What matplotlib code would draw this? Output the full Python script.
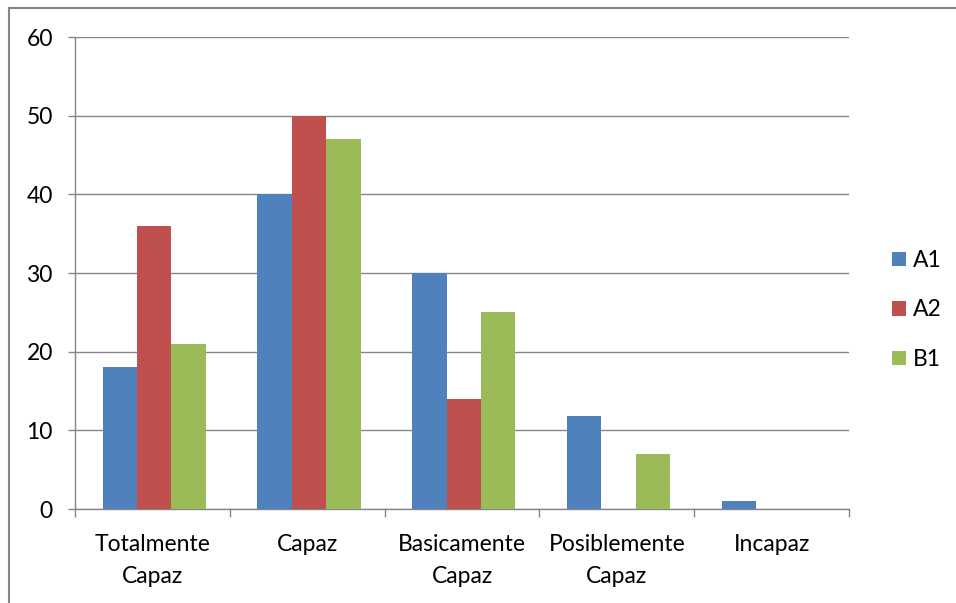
import numpy as np
import matplotlib.pyplot as plt
from matplotlib.lines import Line2D

categories = ['Totalmente\nCapaz', 'Capaz', 'Basicamente\nCapaz', 'Posiblemente\nCapaz', 'Incapaz']
a1 = [18, 40, 30, 11.8, 1]
a2 = [36, 50, 14, 0, 0]
b1 = [21, 47, 25, 7, 0]
series = ['A1', 'A2', 'B1']
colors = ['#4F81BD', '#C0504D', '#9BBB59']

plt.rcParams['font.family'] = ['Lato', 'DejaVu Sans']
grid_c = '#868686'
fs = 16.5

fig = plt.figure(figsize=(9.56, 6.03), dpi=100)
ax = fig.add_axes([75/956, 94/603, 774/956, 472/603])

w = 1/4.5
x = np.arange(len(categories)) + 0.5
for i, (vals, c, lab) in enumerate(zip([a1, a2, b1], colors, series)):
    ax.bar(x + (i-1)*w + 0.012, vals, width=w, color=c, label=lab, zorder=3, linewidth=0)

ax.set_xlim(0, 5)
ax.set_ylim(0, 60)
ax.set_yticks(range(0, 61, 10))
ax.yaxis.grid(True, color=grid_c, linewidth=1.0, zorder=0)
ax.set_xticks(range(0, 6))
ax.set_xticklabels([])
ax.set_xticks(x, minor=True)
ax.set_xticklabels(categories, minor=True, fontsize=fs, linespacing=1.65)
ax.tick_params(axis='x', which='minor', length=0, pad=18)
ax.tick_params(axis='x', which='major', length=6, color=grid_c, width=1.0)
ax.tick_params(axis='y', length=5, color=grid_c, width=1.0, pad=11, labelsize=fs)
for s in ['top', 'right']:
    ax.spines[s].set_visible(False)
for s in ['left', 'bottom']:
    ax.spines[s].set_color(grid_c)
    ax.spines[s].set_linewidth(1.0)

ax.legend(loc='center left', bbox_to_anchor=(892/956, 293/603), bbox_transform=fig.transFigure,
          frameon=False, handlelength=0.6, handleheight=0.6, handletextpad=0.3,
          labelspacing=1.25, fontsize=fs, borderaxespad=0, borderpad=0)

# outer chart border (left and top visible)
fig.add_artist(Line2D([8.5/956, 8.5/956], [0, 1 - 8/603], transform=fig.transFigure, color=grid_c, linewidth=1.5))
fig.add_artist(Line2D([8.5/956, 1], [1 - 8/603, 1 - 8/603], transform=fig.transFigure, color=grid_c, linewidth=1.5))

fig.savefig('out.png', dpi=100)
